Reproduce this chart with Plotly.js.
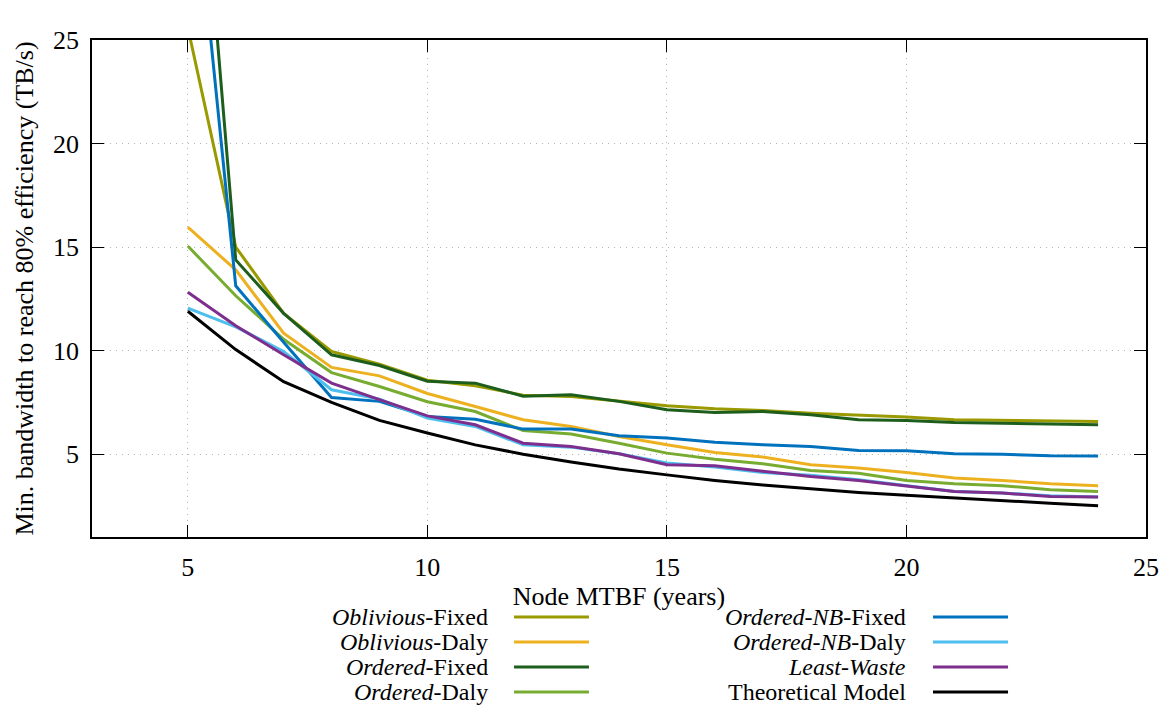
<!DOCTYPE html>
<html>
<head>
<meta charset="utf-8">
<script src="https://cdn.plot.ly/plotly-3.0.1.min.js"></script>
</head>
<body style="margin:0">
<div id="chart" style="width:1165px;height:709px"></div>
<script>
// ---- Data ----
const mtbfYears = [5, 6, 7, 8, 9, 10, 11, 12, 13, 14, 15, 16, 17, 18, 19, 20, 21, 22, 23, 24];

const obliviousFixed = [25.6, 15.0, 11.8, 9.96, 9.35, 8.57, 8.30, 7.85, 7.79, 7.55, 7.34, 7.19, 7.11, 6.98, 6.88, 6.80, 6.66, 6.64, 6.60, 6.58];
const obliviousDaly  = [15.96, 13.9, 10.84, 9.19, 8.78, 7.93, 7.30, 6.66, 6.34, 5.85, 5.45, 5.08, 4.86, 4.49, 4.33, 4.12, 3.85, 3.73, 3.57, 3.48];
const orderedFixed   = [42.2, 14.38, 11.8, 9.8, 9.28, 8.52, 8.43, 7.80, 7.87, 7.55, 7.14, 7.01, 7.06, 6.90, 6.66, 6.63, 6.53, 6.50, 6.45, 6.42];
const orderedDaly    = [15.05, 12.65, 10.55, 8.94, 8.27, 7.53, 7.06, 6.14, 5.97, 5.53, 5.05, 4.76, 4.54, 4.21, 4.08, 3.73, 3.57, 3.48, 3.28, 3.20];
const orderedNBFixed = [36.0, 13.13, 10.4, 7.74, 7.55, 6.82, 6.69, 6.21, 6.21, 5.89, 5.78, 5.57, 5.45, 5.37, 5.18, 5.16, 5.02, 5.00, 4.92, 4.91];
const orderedNBDaly  = [12.05, 11.15, 9.96, 8.11, 7.66, 6.74, 6.34, 5.45, 5.34, 5.02, 4.57, 4.38, 4.12, 3.98, 3.76, 3.48, 3.20, 3.12, 2.99, 2.93];
const leastWaste     = [12.82, 11.2, 9.8, 8.43, 7.63, 6.85, 6.42, 5.53, 5.37, 5.02, 4.49, 4.44, 4.17, 3.92, 3.73, 3.48, 3.20, 3.12, 2.96, 2.93];
const theoretical    = [11.9, 10.05, 8.5, 7.5, 6.63, 6.02, 5.45, 5.0, 4.62, 4.28, 4.0, 3.73, 3.51, 3.32, 3.15, 3.02, 2.88, 2.75, 2.63, 2.51];

const seriesNames = [
  "<i>Oblivious</i>-Fixed",
  "<i>Oblivious</i>-Daly",
  "<i>Ordered</i>-Fixed",
  "<i>Ordered</i>-Daly",
  "<i>Ordered-NB</i>-Fixed",
  "<i>Ordered-NB</i>-Daly",
  "<i>Least-Waste</i>",
  "Theoretical Model"
];
const seriesValues = [obliviousFixed, obliviousDaly, orderedFixed, orderedDaly,
                      orderedNBFixed, orderedNBDaly, leastWaste, theoretical];
const seriesColors = ["#9a9a00", "#edb120", "#1d5e1d", "#77ac30",
                      "#0072bd", "#4dbeee", "#7e2f8e", "#000000"];

const xTicks = [5, 10, 15, 20, 25];
const yTicks = [5, 10, 15, 20, 25];

// ---- Figure ----
const traces = seriesValues.map((vals, i) => ({
  x: mtbfYears,
  y: vals,
  type: "scatter",
  mode: "lines",
  name: seriesNames[i],
  line: { color: seriesColors[i], width: 3 },
  showlegend: false
}));

// Custom legend in gnuplot style (text right-aligned, sample on the right)
const legendCols = [
  { textRight: 0.3776, lineX0: 0.4004, lineX1: 0.4715 },
  { textRight: 0.7742, lineX0: 0.7979, lineX1: 0.8691 }
];
const legendRows = [-0.161, -0.2113, -0.2616, -0.3119];

const annotations = [];
const shapes = [];
seriesNames.forEach((name, i) => {
  const col = legendCols[Math.floor(i / 4)];
  const row = legendRows[i % 4];
  annotations.push({
    xref: "paper", yref: "paper",
    x: col.textRight, y: row,
    xanchor: "right", yanchor: "middle",
    text: name, showarrow: false,
    font: { family: "Liberation Serif", size: 24, color: "#000000" }
  });
  shapes.push({
    type: "line", xref: "paper", yref: "paper",
    x0: col.lineX0, x1: col.lineX1, y0: row, y1: row,
    line: { color: seriesColors[i], width: 3 }
  });
});

function axisStyle(extra) {
  return Object.assign({
    showline: true, linecolor: "#000000", linewidth: 1.5, mirror: "ticks",
    ticks: "inside", ticklen: 12, tickwidth: 1.2, tickcolor: "#000000",
    showgrid: true, gridcolor: "#b4b4b4", griddash: "1px,5px", gridwidth: 1,
    zeroline: false,
    tickfont: { family: "Liberation Serif", size: 26, color: "#000000" },
    ticklabelstandoff: 6
  }, extra);
}

const layout = {
  width: 1165, height: 709,
  margin: { l: 92, r: 19, t: 40, b: 172 },
  paper_bgcolor: "#ffffff", plot_bgcolor: "#ffffff",
  xaxis: axisStyle({
    range: [3, 25], tickvals: xTicks, ticktext: xTicks.map(String),
    title: { text: "Node MTBF (years)", font: { family: "Liberation Serif", size: 26, color: "#000000" }, standoff: 2 }
  }),
  yaxis: axisStyle({
    range: [1, 25], tickvals: yTicks, ticktext: yTicks.map(String),
    title: { text: "Min. bandwidth to reach 80% efficiency (TB/s)", font: { family: "Liberation Serif", size: 26, color: "#000000" }, standoff: 12 }
  }),
  annotations: annotations,
  shapes: shapes,
  showlegend: false
};

Plotly.newPlot("chart", traces, layout, { displayModeBar: false });
</script>
</body>
</html>
